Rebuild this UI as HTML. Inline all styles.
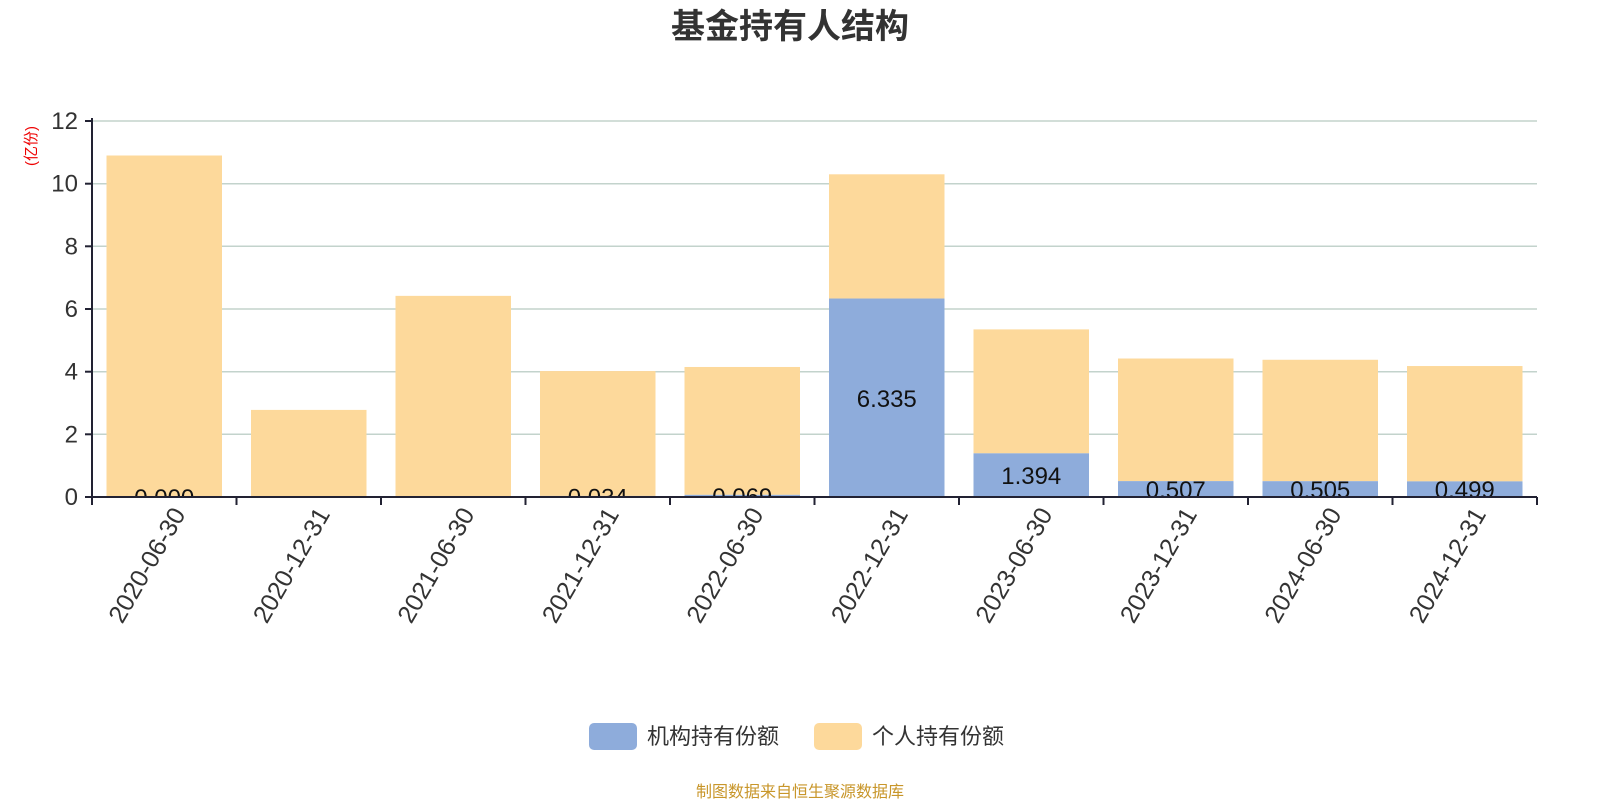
<!DOCTYPE html>
<html><head><meta charset="utf-8"><style>body{margin:0;background:#fff}svg{display:block}</style></head>
<body>
<svg width="1600" height="800" xmlns="http://www.w3.org/2000/svg" font-family="'Liberation Sans','Noto Sans CJK SC',sans-serif">
<text x="790" y="38" text-anchor="middle" font-size="34" font-weight="bold" fill="#333">基金持有人结构</text>
<text transform="translate(36,146) rotate(-90)" text-anchor="middle" font-size="15" fill="#e00">(亿份)</text>
<g stroke="#c3d3cc" stroke-width="1.5">
<line x1="92" x2="1537" y1="121" y2="121"/><line x1="92" x2="1537" y1="183.7" y2="183.7"/>
<line x1="92" x2="1537" y1="246.3" y2="246.3"/><line x1="92" x2="1537" y1="309" y2="309"/>
<line x1="92" x2="1537" y1="371.7" y2="371.7"/><line x1="92" x2="1537" y1="434.3" y2="434.3"/>
</g>
<g font-size="24" fill="#333" text-anchor="end">
<text x="78" y="129">12</text><text x="78" y="191.7">10</text><text x="78" y="254.3">8</text>
<text x="78" y="317">6</text><text x="78" y="379.7">4</text><text x="78" y="442.3">2</text><text x="78" y="505">0</text>
</g>
<defs><clipPath id="c"><rect x="92" y="100" width="1445" height="397"/></clipPath></defs>
<g id="bars" clip-path="url(#c)"></g>
<g stroke="#223" stroke-width="2">
<line x1="92" y1="118" x2="92" y2="498"/><line x1="85" y1="497" x2="1537" y2="497"/>
<line x1="85" y1="121" x2="92" y2="121"/><line x1="85" y1="183.7" x2="92" y2="183.7"/><line x1="85" y1="246.3" x2="92" y2="246.3"/><line x1="85" y1="309" x2="92" y2="309"/><line x1="85" y1="371.7" x2="92" y2="371.7"/><line x1="85" y1="434.3" x2="92" y2="434.3"/>
</g>
<g id="ticks" stroke="#223" stroke-width="2"></g>
<g id="xl" font-size="25" fill="#333"></g>
<rect x="589" y="723" width="48" height="27" rx="5" fill="#8eacdb"/>
<text x="647" y="744" font-size="22" fill="#333">机构持有份额</text>
<rect x="814" y="723" width="48" height="27" rx="5" fill="#fdd99b"/>
<text x="872" y="744" font-size="22" fill="#333">个人持有份额</text>
<text x="800" y="797" text-anchor="middle" font-size="16" fill="#c8962a">制图数据来自恒生聚源数据库</text>
<script>
var d=[["2020-06-30",0,10.9,"0.000"],["2020-12-31",0,2.78,""],["2021-06-30",0,6.42,""],["2021-12-31",0.034,4.02,"0.034"],["2022-06-30",0.069,4.15,"0.069"],["2022-12-31",6.335,10.3,"6.335"],["2023-06-30",1.394,5.35,"1.394"],["2023-12-31",0.507,4.42,"0.507"],["2024-06-30",0.505,4.38,"0.505"],["2024-12-31",0.499,4.18,"0.499"]];
var ns="http://www.w3.org/2000/svg",k=31.33,w=144.5,b=document.getElementById("bars"),t=document.getElementById("ticks"),xl=document.getElementById("xl");
function el(p,n,a,tx){var e=document.createElementNS(ns,n);for(var i in a)e.setAttribute(i,a[i]);if(tx)e.textContent=tx;p.appendChild(e);return e;}
for(var i=0;i<=10;i++)el(t,"line",{x1:92+i*w,x2:92+i*w,y1:497,y2:505});
d.forEach(function(r,i){var x=92+i*w+14.5,bw=115.5,ib=r[1]*k,tot=r[2]*k;
el(b,"rect",{x:x,y:497-tot,width:bw,height:tot-ib,fill:"#fdd99b"});
if(ib>0)el(b,"rect",{x:x,y:497-ib,width:bw,height:ib,fill:"#8eacdb"});
if(r[3])el(b,"text",{x:x+bw/2,y:497-ib/2+9,"text-anchor":"middle","font-size":24,fill:"#111"},r[3]);
var cx=92+i*w+w/2;el(xl,"text",{transform:"translate("+(cx+22)+",514) rotate(-60)","text-anchor":"end"},r[0]);});
</script>
</svg>
</body></html>
